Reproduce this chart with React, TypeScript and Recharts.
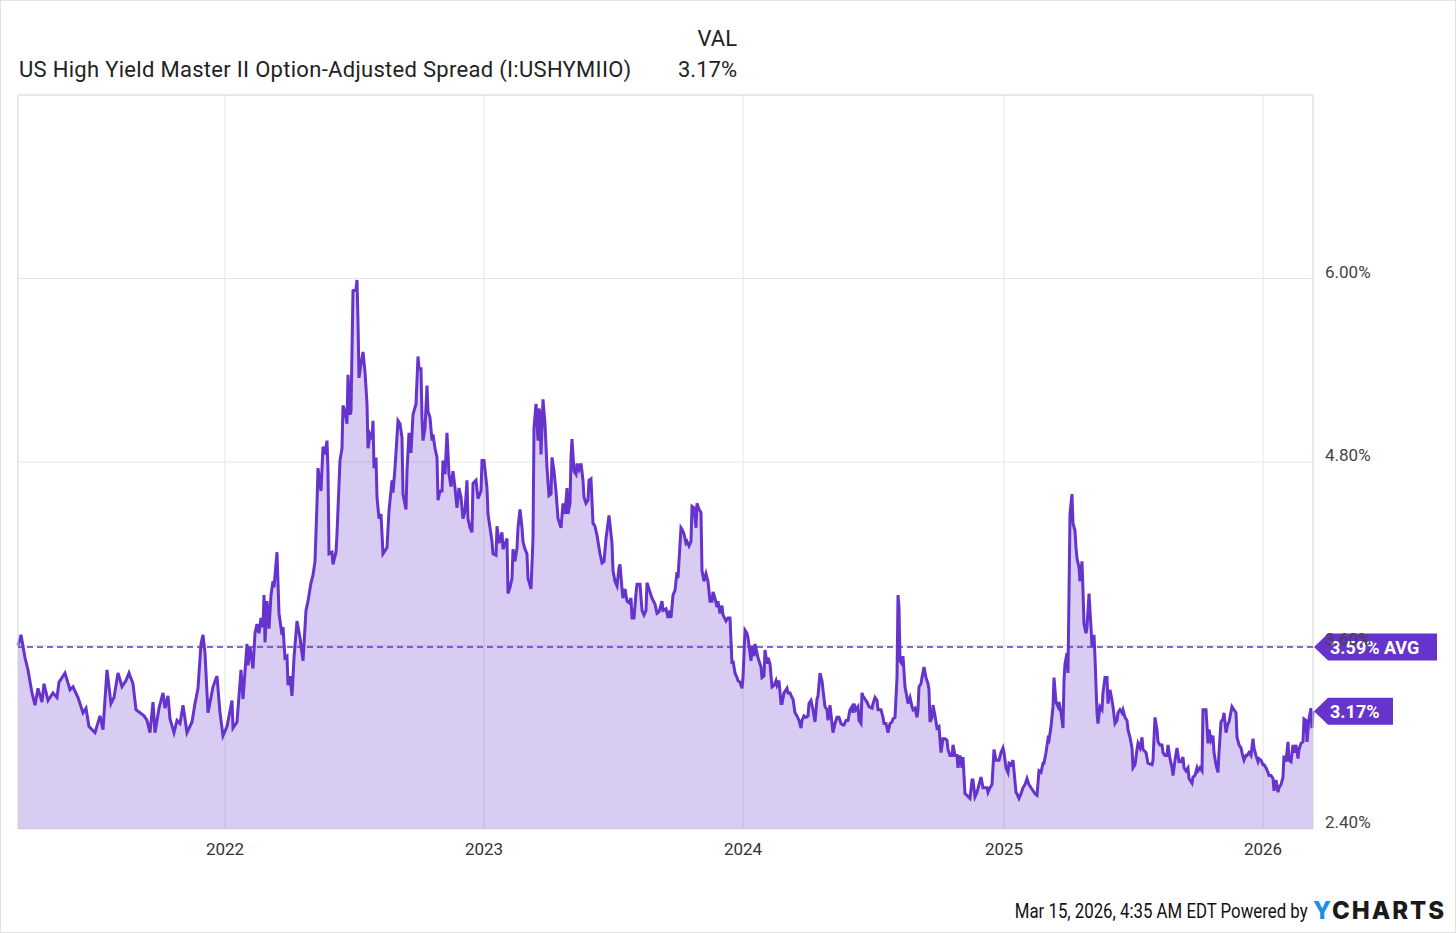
import { AreaChart, Area, XAxis, YAxis, CartesianGrid, ReferenceLine } from "recharts"

// weeks since mid-March 2021 -> option-adjusted spread (%)
const pts2021: [number, number][] = [
  [0, 3.6], [0.6, 3.67], [1.4, 3.52], [2.0, 3.44], [2.8, 3.29], [3.4, 3.21], [4.0, 3.32], [4.8, 3.23], [5.2, 3.35], [6.0, 3.24],
  [7.0, 3.29], [7.8, 3.26], [8.2, 3.36], [9.4, 3.42], [10.4, 3.31], [11.0, 3.33], [12.0, 3.26], [13.0, 3.16], [13.6, 3.19], [14.2, 3.07],
  [15.4, 3.03], [16.4, 3.14], [17.0, 3.05], [17.8, 3.44], [18.6, 3.22], [19.2, 3.26], [20.0, 3.42], [20.8, 3.33], [21.6, 3.37], [22.2, 3.42],
  [23.0, 3.35], [23.6, 3.18], [24.4, 3.16], [25.2, 3.14], [25.8, 3.11], [26.4, 3.03], [27.0, 3.23], [27.4, 3.03], [28.2, 3.19], [29.0, 3.29],
  [29.4, 3.19], [30.0, 3.27], [30.4, 3.12], [31.2, 3.03], [31.8, 3.11], [32.4, 3.09], [33.0, 3.21], [33.8, 3.03], [34.8, 3.1], [35.4, 3.22],
  [36.0, 3.32], [36.6, 3.61], [37.0, 3.67], [37.4, 3.55], [38.0, 3.16], [39.0, 3.33], [39.8, 3.4], [40.4, 3.16], [41.0, 3.01],
]

const pts2022: [number, number][] = [
  [41.8, 3.07], [42.8, 3.24], [43.0, 3.06], [43.8, 3.1], [44.6, 3.44], [45.0, 3.25], [45.8, 3.61], [46.0, 3.47], [46.4, 3.59], [47.0, 3.45],
  [47.4, 3.68], [47.8, 3.74], [48.2, 3.68], [48.6, 3.78], [49.0, 3.72], [49.2, 3.93], [49.4, 3.62], [49.8, 3.89], [50.2, 3.71], [50.6, 3.93],
  [51.0, 4.02], [51.2, 3.98], [51.8, 4.21], [52.2, 3.81], [52.8, 3.67], [53.0, 3.72], [53.4, 3.52], [53.8, 3.53], [54.0, 3.34], [54.4, 3.4],
  [54.8, 3.27], [55.2, 3.52], [55.8, 3.76], [56.4, 3.65], [57.0, 3.5], [57.6, 3.83], [58.0, 3.89], [58.6, 4.01], [59.0, 4.06], [59.4, 4.15],
  [59.8, 4.53], [60.0, 4.76], [60.6, 4.61], [61.0, 4.9], [61.4, 4.85], [61.8, 4.94], [62.0, 4.74], [62.2, 4.2], [62.8, 4.21], [63.0, 4.13],
  [63.6, 4.21], [63.8, 4.33], [64.4, 4.81], [64.8, 4.89], [65.0, 5.17], [65.4, 5.13], [65.8, 5.05], [66.0, 5.37], [66.4, 5.11], [66.6, 5.13],
  [67.0, 5.92], [67.6, 5.93], [67.8, 5.99], [68.0, 5.72], [68.2, 5.35], [68.6, 5.44], [69.0, 5.52], [69.4, 5.39], [69.8, 5.18], [70.0, 4.89],
  [70.4, 4.98], [70.8, 4.95], [71.0, 5.07], [71.2, 4.76], [71.6, 4.83], [71.8, 4.57], [72.2, 4.43], [72.6, 4.46], [73.0, 4.2], [73.8, 4.24],
  [74.2, 4.48], [74.8, 4.68], [75.0, 4.6], [75.4, 4.76], [76.0, 5.07], [76.4, 5.05], [76.8, 4.96], [77.0, 4.59], [77.6, 4.49], [77.8, 4.74],
  [78.2, 4.99], [78.6, 4.86], [79.0, 5.11], [79.6, 5.18], [80.0, 5.49], [80.2, 5.41], [80.6, 5.41], [80.8, 5.09], [81.0, 4.94], [81.4, 5.02],
  [81.8, 5.3], [82.0, 5.13], [82.4, 5.09], [82.8, 4.94], [83.0, 4.98], [83.4, 4.89], [83.8, 4.83], [84.0, 4.55], [84.4, 4.61], [84.8, 4.61],
  [85.0, 4.81], [85.4, 4.72], [85.8, 4.99], [86.2, 4.72], [86.6, 4.64], [87.0, 4.74], [87.4, 4.63], [87.8, 4.5], [88.2, 4.63], [88.6, 4.57],
  [89.0, 4.43], [89.4, 4.48], [89.8, 4.68], [90.0, 4.43], [90.4, 4.37], [90.8, 4.34], [91.0, 4.66], [91.6, 4.68], [92.0, 4.56], [92.6, 4.61],
  [92.8, 4.81],
]

const pts2023: [number, number][] = [
  [93.2, 4.81], [93.8, 4.63], [94.0, 4.46], [94.8, 4.28], [95.0, 4.2], [95.6, 4.19], [95.8, 4.38], [96.2, 4.27], [96.8, 4.34], [97.0, 4.23],
  [97.8, 4.3], [98.0, 3.94], [98.4, 3.98], [98.8, 4.04], [99.0, 4.23], [99.4, 4.15], [99.8, 4.24], [100.0, 4.37], [100.4, 4.49], [100.8, 4.37],
  [101.0, 4.28], [101.4, 4.23], [101.8, 4.2], [102.0, 4.04], [102.6, 3.97], [103.0, 4.3], [103.2, 5.02], [103.6, 5.18], [104.0, 4.94], [104.2, 5.15],
  [104.4, 5.11], [104.6, 4.85], [105.0, 5.21], [105.4, 5.05], [105.8, 4.76], [106.2, 4.58], [106.6, 4.59], [106.8, 4.83], [107.2, 4.74], [107.6, 4.61],
  [108.0, 4.43], [108.6, 4.37], [109.0, 4.53], [109.4, 4.46], [109.8, 4.63], [110.0, 4.46], [110.4, 4.53], [110.6, 4.83], [110.8, 4.95], [111.2, 4.74],
  [111.6, 4.72], [111.8, 4.79], [112.2, 4.75], [112.6, 4.79], [113.0, 4.68], [113.2, 4.57], [113.6, 4.53], [114.0, 4.55], [114.2, 4.68], [114.6, 4.69],
  [115.0, 4.4], [115.4, 4.38], [115.8, 4.32], [116.0, 4.28], [116.4, 4.2], [116.8, 4.14], [117.2, 4.15], [117.6, 4.3], [118.0, 4.4], [118.2, 4.45],
  [118.8, 4.27], [119.0, 4.09], [119.4, 4.02], [119.8, 3.99], [120.2, 4.11], [120.4, 4.13], [120.8, 3.97], [121.0, 3.91], [121.4, 3.97], [121.8, 3.89],
  [122.2, 3.88], [122.6, 3.91], [122.8, 3.78], [123.2, 3.78], [123.6, 3.94], [123.8, 4.0], [124.4, 4.0], [124.8, 3.83], [125.2, 3.8], [125.6, 3.83],
  [125.8, 4.01], [126.2, 3.97], [126.8, 3.91], [127.4, 3.87], [127.8, 3.81], [128.2, 3.82], [128.8, 3.89], [129.0, 3.83], [129.6, 3.84], [130.0, 3.78],
  [130.4, 3.83], [130.6, 3.78], [131.0, 3.93], [131.4, 3.96], [131.8, 4.08], [132.0, 4.04], [132.6, 4.37], [132.8, 4.36], [133.2, 4.33], [133.6, 4.27],
  [133.8, 4.28], [134.2, 4.25], [134.6, 4.28], [134.8, 4.51], [135.2, 4.5], [135.6, 4.37], [135.8, 4.53], [136.2, 4.49], [136.6, 4.47], [136.8, 4.09],
  [137.2, 4.02], [137.6, 4.07], [138.0, 4.02], [138.4, 3.89], [138.8, 3.89], [139.0, 3.95], [139.4, 3.91], [139.8, 3.85], [140.0, 3.89], [140.4, 3.81],
  [140.8, 3.86], [141.0, 3.8], [141.6, 3.76], [142.0, 3.78], [142.4, 3.78], [142.8, 3.48], [143.0, 3.5], [143.4, 3.42], [143.8, 3.39], [144.0, 3.37],
  [144.4, 3.36], [144.8, 3.32],
]

const pts2024: [number, number][] = [
  [145.0, 3.39], [145.4, 3.7], [145.8, 3.68], [146.0, 3.65], [146.6, 3.5], [146.8, 3.6], [147.2, 3.53], [147.4, 3.61], [147.8, 3.55], [148.0, 3.52],
  [148.6, 3.46], [148.8, 3.39], [149.2, 3.4], [149.4, 3.57], [149.8, 3.48], [150.0, 3.52], [150.4, 3.48], [150.8, 3.33], [151.2, 3.34], [151.6, 3.37],
  [151.8, 3.34], [152.2, 3.37], [152.6, 3.22], [152.8, 3.22], [153.2, 3.29], [153.8, 3.32], [154.0, 3.29], [154.4, 3.29], [154.8, 3.26], [155.0, 3.25],
  [155.4, 3.16], [155.8, 3.14], [156.2, 3.11], [156.6, 3.06], [156.8, 3.11], [157.2, 3.14], [157.6, 3.13], [158.0, 3.14], [158.2, 3.22], [158.6, 3.24],
  [159.0, 3.18], [159.4, 3.1], [159.8, 3.25], [160.0, 3.27], [160.4, 3.42], [160.8, 3.37], [161.0, 3.31], [161.4, 3.2], [161.8, 3.18], [162.0, 3.11],
  [162.4, 3.21], [162.8, 3.09], [163.0, 3.03], [163.4, 3.09], [163.8, 3.13], [164.2, 3.13], [164.6, 3.09], [165.0, 3.08], [165.2, 3.08], [165.6, 3.11],
  [166.0, 3.11], [166.4, 3.18], [166.8, 3.2], [167.0, 3.16], [167.2, 3.22], [167.6, 3.18], [168.0, 3.2], [168.2, 3.11], [168.6, 3.09], [168.8, 3.29],
  [169.0, 3.27], [169.4, 3.25], [169.8, 3.23], [170.2, 3.2], [170.8, 3.19], [171.0, 3.22], [171.4, 3.26], [171.8, 3.24], [172.0, 3.18], [172.6, 3.18],
  [173.0, 3.13], [173.2, 3.09], [173.6, 3.09], [174.0, 3.03], [174.4, 3.09], [174.8, 3.1], [175.0, 3.12], [175.4, 3.13], [175.8, 3.39], [176.0, 3.93],
  [176.2, 3.85], [176.4, 3.5], [176.8, 3.48], [177.0, 3.53], [177.4, 3.33], [177.8, 3.26], [178.0, 3.22], [178.4, 3.26], [178.8, 3.2], [179.0, 3.18],
  [179.4, 3.19], [179.8, 3.13], [180.0, 3.18], [180.2, 3.33], [180.6, 3.35], [180.8, 3.39], [181.2, 3.46], [181.6, 3.39], [182.0, 3.35], [182.2, 3.31],
  [182.4, 3.1], [182.8, 3.13], [183.0, 3.21], [183.4, 3.14], [183.8, 3.06], [184.2, 3.07], [184.6, 2.9], [185.0, 2.99], [185.4, 2.99], [185.8, 2.98],
  [186.0, 2.92], [186.4, 2.88], [186.8, 2.88], [187.0, 2.95], [187.4, 2.88], [187.8, 2.88], [188.0, 2.8], [188.4, 2.88], [188.8, 2.8], [189.0, 2.87],
  [189.4, 2.63], [189.8, 2.62], [190.4, 2.6], [190.8, 2.72], [191.0, 2.72], [191.4, 2.61], [191.8, 2.64], [192.2, 2.69], [192.6, 2.74], [193.0, 2.67],
  [193.4, 2.67], [193.8, 2.67], [194.0, 2.64], [194.4, 2.67], [194.8, 2.69], [195.2, 2.92], [195.6, 2.85], [195.8, 2.85], [196.2, 2.85], [196.6, 2.9],
  [197.0, 2.93],
]

const pts2025: [number, number][] = [
  [197.2, 2.9], [197.6, 2.8], [198.0, 2.77], [198.2, 2.83], [198.6, 2.82], [199.0, 2.85], [199.2, 2.78], [199.6, 2.64], [199.8, 2.63], [200.2, 2.6],
  [200.6, 2.63], [201.0, 2.67], [201.4, 2.69], [201.8, 2.73], [202.2, 2.69], [202.6, 2.67], [203.0, 2.65], [203.4, 2.63], [203.8, 2.62], [204.2, 2.78],
  [204.6, 2.77], [205.0, 2.83], [205.2, 2.83], [205.6, 2.9], [206.0, 2.99], [206.2, 2.98], [206.6, 3.07], [207.0, 3.2], [207.2, 3.39], [207.6, 3.23],
  [208.0, 3.2], [208.2, 3.23], [208.6, 3.16], [209.0, 3.06], [209.2, 3.37], [209.4, 3.48], [209.8, 3.55], [210.0, 3.42], [210.4, 4.46], [210.8, 4.59],
  [211.0, 4.4], [211.4, 4.35], [211.6, 4.24], [211.8, 4.17], [212.2, 4.11], [212.4, 4.02], [212.8, 4.15], [213.0, 3.96], [213.2, 3.74], [213.6, 3.68],
  [213.8, 3.72], [214.2, 3.94], [214.6, 3.72], [214.8, 3.59], [215.2, 3.67], [215.4, 3.52], [215.8, 3.16], [216.0, 3.09], [216.4, 3.2], [216.8, 3.18],
  [217.0, 3.29], [217.4, 3.39], [217.8, 3.39], [218.0, 3.22], [218.4, 3.31], [218.8, 3.24], [219.0, 3.2], [219.4, 3.09], [219.8, 3.11], [220.0, 3.16],
  [220.4, 3.18], [220.8, 3.16], [221.0, 3.18], [221.4, 3.13], [221.8, 3.11], [222.0, 3.05], [222.4, 3.0], [222.8, 2.93], [223.0, 2.8], [223.4, 2.82],
  [223.8, 2.92], [224.0, 2.96], [224.4, 2.93], [224.8, 3.0], [225.0, 2.92], [225.6, 2.9], [226.0, 2.83], [226.8, 2.82], [227.0, 2.85], [227.4, 3.13],
  [227.8, 3.05], [228.0, 2.97], [228.4, 2.95], [228.8, 2.95], [229.0, 2.9], [229.4, 2.88], [229.8, 2.88], [230.0, 2.95], [230.4, 2.86], [230.8, 2.8],
  [231.0, 2.75], [231.4, 2.85], [231.8, 2.93], [232.2, 2.84], [232.6, 2.84], [233.0, 2.87], [233.2, 2.8], [233.6, 2.78], [234.0, 2.8], [234.2, 2.73],
  [234.8, 2.7], [235.0, 2.74], [235.4, 2.75], [235.8, 2.8], [236.0, 2.78], [236.4, 2.8], [236.8, 2.78], [237.0, 3.18], [237.6, 3.18], [238.0, 2.96],
  [238.2, 3.05], [238.6, 2.98], [239.0, 3.01], [239.2, 2.9], [239.6, 2.82], [240.0, 2.77], [240.2, 2.9], [240.6, 3.1], [241.0, 3.12], [241.2, 3.16],
  [241.6, 3.03], [242.0, 3.09], [242.2, 3.1], [242.8, 3.2], [243.2, 3.18], [243.6, 3.16], [243.8, 3.0], [244.2, 2.95], [244.6, 2.93], [244.8, 2.9],
  [245.2, 2.85], [245.6, 2.88], [245.8, 2.88], [246.2, 2.9], [246.6, 2.88], [247.0, 2.99], [247.2, 2.93], [247.6, 2.88], [248.0, 2.84], [248.2, 2.86],
  [248.6, 2.85],
]

const pts2026: [number, number][] = [
  [249.0, 2.82], [249.2, 2.82], [249.6, 2.8], [250.0, 2.77], [250.2, 2.75], [250.6, 2.75], [251.0, 2.73], [251.2, 2.65], [251.6, 2.72], [252.0, 2.64],
  [252.2, 2.67], [252.6, 2.69], [253.0, 2.74], [253.2, 2.88], [253.6, 2.84], [254.0, 2.97], [254.2, 2.85], [254.6, 2.84], [255.0, 2.95], [255.2, 2.9],
  [255.6, 2.95], [256.0, 2.86], [256.2, 2.92], [256.6, 2.96], [257.0, 2.97], [257.2, 3.12], [257.6, 3.11], [257.8, 2.97], [258.2, 3.12], [258.6, 3.19],
  [258.8, 3.06], [259.0, 3.17],
]

const yearTicks = [41.4, 93.2, 145.0, 197.2, 249.0]
const yearLabels = ["2022", "2023", "2024", "2025", "2026"]
const valueTicks = [2.4, 3.6, 4.8, 6.0]
const average = 3.59
const latest = 3.17

const data = [...pts2021, ...pts2022, ...pts2023, ...pts2024, ...pts2025, ...pts2026].map(([w, v]) => ({ w, v }))

const purple = "#6633cc"
const gridColor = "#e6e6e6"

const PriceTag = (props: any) => {
  const { viewBox, text, tagWidth } = props
  const x = viewBox.x + viewBox.width + 1
  const y = viewBox.y
  const h = 27
  const a = 14
  const pts = `${x},${y} ${x + a},${y - h / 2} ${x + tagWidth},${y - h / 2} ${x + tagWidth},${y + h / 2} ${x + a},${y + h / 2}`
  return (
    <g>
      <polygon points={pts} fill={purple} />
      <text x={x + 16} y={y} dy="0.36em" fill="#fff" fontSize={18} fontWeight={700} fontFamily="Roboto">
        {text}
      </text>
    </g>
  )
}

export default function App() {
  return (
    <div style={{ position: "absolute", left: 0, top: 0, width: 1456, height: 933, background: "#fff", fontFamily: "Roboto", color: "#222" }}>
      <div style={{ position: "absolute", left: 600, width: 137, top: 28, fontSize: 22, lineHeight: "22px", textAlign: "right" }}>VAL</div>
      <div style={{ position: "absolute", left: 19, top: 59, fontSize: 22, lineHeight: "22px", letterSpacing: 0.3, whiteSpace: "nowrap" }}>
        US High Yield Master II Option-Adjusted Spread (I:USHYMIIO)
      </div>
      <div style={{ position: "absolute", left: 600, width: 137, top: 59, fontSize: 22, lineHeight: "22px", textAlign: "right" }}>3.17%</div>

      <div style={{ position: "absolute", left: 0, top: 0 }}>
        <AreaChart width={1456} height={933} data={data} margin={{ top: 95, right: 83, bottom: 64, left: 18 }}>
          <CartesianGrid stroke={gridColor} />
          <XAxis
            dataKey="w"
            type="number"
            domain={[0, 259]}
            ticks={yearTicks}
            tickFormatter={(v: number) => yearLabels[yearTicks.indexOf(v)]}
            axisLine={false}
            tickLine={false}
            tickSize={0}
            tickMargin={14}
            height={40}
            tick={{ fontSize: 17, fill: "#333", fontFamily: "Roboto" }}
          />
          <YAxis
            orientation="right"
            domain={[2.4, 7.2]}
            ticks={valueTicks}
            allowDataOverflow
            axisLine={false}
            tickLine={false}
            tickSize={0}
            tickMargin={12}
            width={60}
            tick={(p: any) => (
              <text x={p.x} y={p.y - 7} dy="0.36em" textAnchor="start" fontSize={17} fill="#444" fontFamily="Roboto">
                {Number(p.payload.value).toFixed(2) + "%"}
              </text>
            )}
          />
          <Area
            type="linear"
            dataKey="v"
            stroke={purple}
            strokeWidth={3}
            fill={purple}
            fillOpacity={0.25}
            dot={false}
            activeDot={false}
            isAnimationActive={false}
          />
          <ReferenceLine y={7.2} stroke="#dedede" />
          <ReferenceLine x={0} stroke="#dedede" />
          <ReferenceLine x={259} stroke="#dedede" />
          <ReferenceLine
            y={average}
            stroke={purple}
            strokeWidth={1.5}
            strokeDasharray="6 4"
            label={<PriceTag text={`${average.toFixed(2)}% AVG`} tagWidth={123} />}
          />
          <ReferenceLine y={latest} stroke="none" label={<PriceTag text={`${latest.toFixed(2)}%`} tagWidth={79} />} />
        </AreaChart>
      </div>

      <div
        style={{
          position: "absolute",
          right: 148,
          top: 899,
          fontSize: 20,
          lineHeight: "24px",
          whiteSpace: "nowrap",
          color: "#111",
          transform: "scaleX(0.84)",
          transformOrigin: "right center",
        }}
      >
        Mar 15, 2026, 4:35 AM EDT Powered by
      </div>
      <div style={{ position: "absolute", left: 1313, top: 898, fontSize: 24, lineHeight: "26px", fontWeight: 800, fontFamily: "Inter", letterSpacing: 2, whiteSpace: "nowrap" }}>
        <span style={{ color: "#1e8fe8" }}>Y</span>
        <span style={{ color: "#1a1a1a" }}>CHARTS</span>
      </div>
      <div style={{ position: "absolute", left: 0, top: 0, width: 1456, height: 933, boxSizing: "border-box", border: "1px solid #e2e2e2", pointerEvents: "none" }} />
    </div>
  )
}
